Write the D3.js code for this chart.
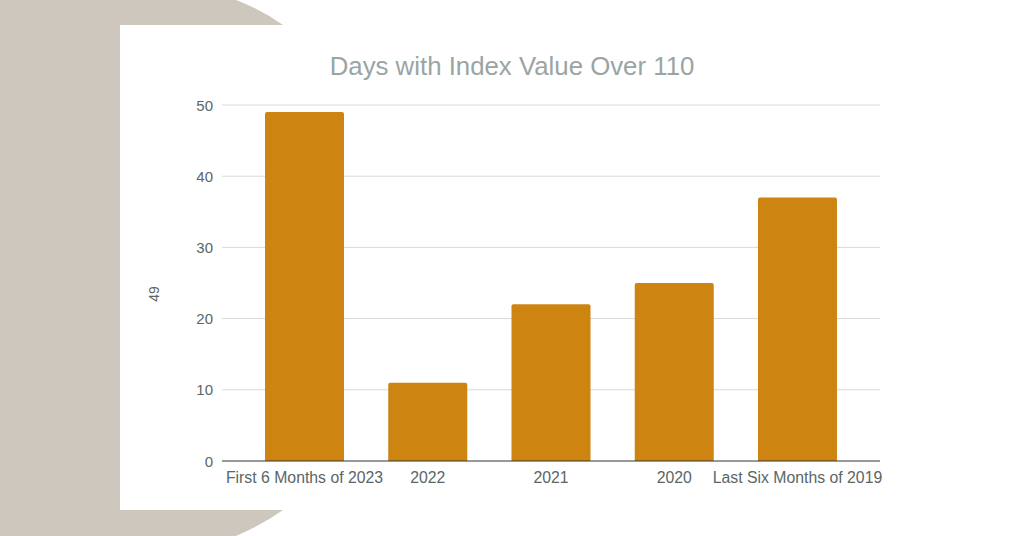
<!DOCTYPE html>
<html><head><meta charset="utf-8">
<script src="https://cdn.jsdelivr.net/npm/d3@7"></script>
<style>body{margin:0;background:#fff}svg{display:block}text{font-family:"Liberation Sans",Arial,sans-serif}</style>
</head><body><svg id="c" width="1024" height="536"></svg>
<script>
const categories = ["First 6 Months of 2023","2022","2021","2020","Last Six Months of 2019"];
const values = [49, 11, 22, 25, 37];
const yTicks = [0,10,20,30,40,50];
const title = "Days with Index Value Over 110";
const yTitle = "49";

const svg = d3.select("#c");
svg.append("rect").attr("x",0).attr("y",0).attr("width",1024).attr("height",536).attr("fill","#fff");
svg.append("path").attr("fill","#cec7bd")
  .attr("d","M0,0 L236,0 Q262,10 283,25 L120,25 L120,510 L283,510 Q262,525 236,536 L0,536 Z");

const x = d3.scaleBand().domain(categories).range([242.9, 859.1]).paddingInner(0.36).paddingOuter(0.18);
const y = d3.scaleLinear().domain([0,50]).range([461,105]);

svg.append("g").selectAll("line").data(yTicks.filter(d=>d>0)).join("line")
  .attr("x1",222).attr("x2",880).attr("y1",d=>y(d)).attr("y2",d=>y(d))
  .attr("stroke","#d9d9d9").attr("stroke-width",1);

svg.append("g").selectAll("text").data(yTicks).join("text")
  .attr("x",213).attr("y",d=>y(d)+5.5).attr("text-anchor","end")
  .attr("font-size",15).attr("fill","#5b6666").text(d=>d);

const bw = 79;
svg.append("g").selectAll("path").data(values).join("path")
  .attr("fill","#cd8411")
  .attr("d",(d,i)=>{
    const cx = x(categories[i]) + x.bandwidth()/2;
    const x0 = cx - bw/2, x1 = cx + bw/2, y0 = y(d), yb = y(0), r = 2;
    return `M${x0},${yb} L${x0},${y0+r} Q${x0},${y0} ${x0+r},${y0} L${x1-r},${y0} Q${x1},${y0} ${x1},${y0+r} L${x1},${yb} Z`;
  });

svg.append("line").attr("x1",222).attr("x2",880).attr("y1",y(0)).attr("y2",y(0))
  .attr("stroke","#333").attr("stroke-width",1);

svg.append("g").selectAll("text").data(categories).join("text")
  .attr("x",d=>x(d)+x.bandwidth()/2).attr("y",483).attr("text-anchor","middle")
  .attr("font-size",15.8).attr("fill","#5b6666").text(d=>d);

svg.append("text").attr("x",512).attr("y",75).attr("text-anchor","middle")
  .attr("font-size",25.8).attr("fill","#9aa5a3").text(title);

svg.append("text").attr("transform","translate(159,294) rotate(-90)").attr("text-anchor","middle")
  .attr("font-size",14).attr("fill","#5b6666").text(yTitle);
</script></body></html>
